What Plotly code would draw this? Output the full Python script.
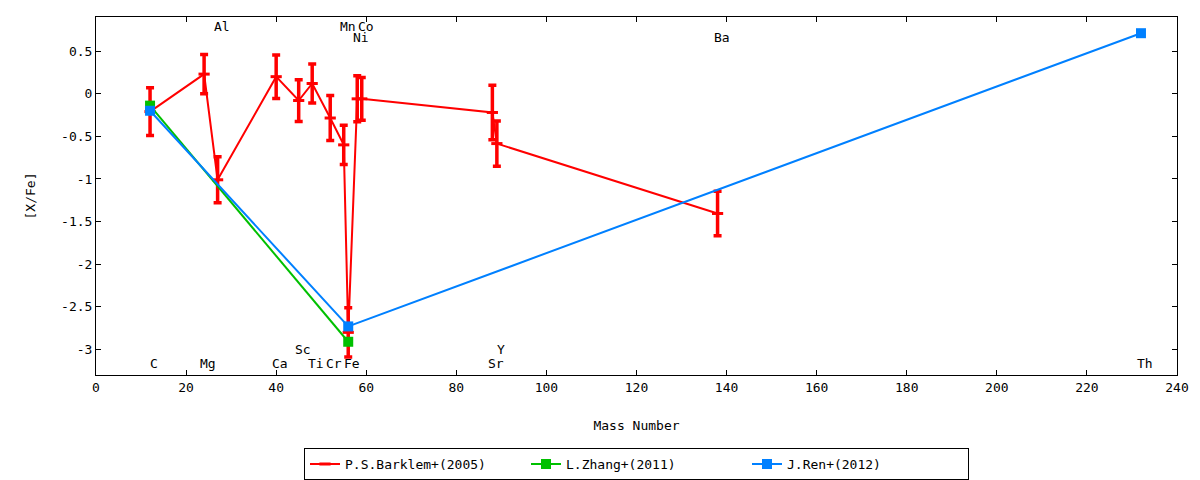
import plotly.graph_objects as go

# P.S.Barklem+(2005): mass number, [X/Fe], error
barklem_mass = [12, 24, 27, 40, 45, 48, 52, 55, 56, 58, 59, 88, 89, 138]
barklem_val = [-0.21, 0.23, -1.01, 0.20, -0.08, 0.12, -0.285, -0.60, -2.80, -0.06, -0.06, -0.22, -0.585, -1.405]
barklem_err = [0.28, 0.23, 0.27, 0.255, 0.245, 0.23, 0.265, 0.23, 0.29, 0.27, 0.25, 0.32, 0.265, 0.26]

# L.Zhang+(2011)
zhang_mass = [12, 56]
zhang_val = [-0.14, -2.91]

# J.Ren+(2012)
ren_mass = [12, 56, 232]
ren_val = [-0.20, -2.73, 0.71]

# element labels
elem_names = ["C", "Mg", "Al", "Ca", "Sc", "Ti", "Cr", "Mn", "Fe", "Ni", "Co", "Sr", "Y", "Ba", "Th"]
elem_mass = [12, 24, 27, 40, 45, 48, 52, 55, 56, 58, 59, 88, 89, 138, 232]
elem_row = [-3.16, -3.16, 0.79, -3.16, -3.0, -3.16, -3.16, 0.79, -3.16, 0.66, 0.79, -3.16, -3.0, 0.66, -3.16]

x_ticks = list(range(0, 241, 20))
y_ticks = [-3, -2.5, -2, -1.5, -1, -0.5, 0, 0.5]

RED = "#ff0000"
GREEN = "#00c000"
BLUE = "#0080ff"
FONT = "DejaVu Sans Mono"

fig = go.Figure()

fig.add_trace(go.Scatter(
    x=barklem_mass, y=barklem_val, name="P.S.Barklem+(2005)",
    mode="lines+markers",
    line=dict(color=RED, width=2),
    marker=dict(symbol="line-ew", size=8, color=RED, line=dict(color=RED, width=3)),
    error_y=dict(type="data", array=barklem_err, visible=True, color=RED, thickness=3.5, width=4),
))
fig.add_trace(go.Scatter(
    x=zhang_mass, y=zhang_val, name="L.Zhang+(2011)",
    mode="lines+markers",
    line=dict(color=GREEN, width=2),
    marker=dict(symbol="square", size=10, color=GREEN),
))
fig.add_trace(go.Scatter(
    x=ren_mass, y=ren_val, name="J.Ren+(2012)",
    mode="lines+markers",
    line=dict(color=BLUE, width=2),
    marker=dict(symbol="square", size=10, color=BLUE),
))

for name, m, row in zip(elem_names, elem_mass, elem_row):
    fig.add_annotation(x=m, y=row, text=name, showarrow=False, xshift=4,
                       font=dict(family=FONT, size=13, color="black"))

axis_common = dict(
    showline=True, linecolor="black", linewidth=1, mirror="ticks",
    ticks="inside", ticklen=5, tickcolor="black",
    showgrid=False, zeroline=False,
    tickfont=dict(family=FONT, size=13, color="black"),
)

fig.update_xaxes(
    range=[0, 240], tickvals=x_ticks, ticktext=[str(v) for v in x_ticks],
    title=dict(text="Mass Number", font=dict(family=FONT, size=13, color="black"), standoff=27),
    **axis_common,
)
fig.update_yaxes(
    range=[-3.3, 0.9], tickvals=y_ticks, ticktext=[f"{v:g}" for v in y_ticks],
    title=dict(text="[X/Fe]", font=dict(family=FONT, size=13, color="black"), standoff=22),
    **axis_common,
)

fig.update_layout(
    width=1200, height=480,
    margin=dict(l=88, r=31, t=9, b=113),
    paper_bgcolor="white", plot_bgcolor="white",
    font=dict(family=FONT, size=13, color="black"),
    legend=dict(
        orientation="h", x=0.5, xanchor="center",
        yref="container", y=0.083, yanchor="top",
        bordercolor="black", borderwidth=1, bgcolor="white",
        entrywidth=176, entrywidthmode="pixels",
        font=dict(family=FONT, size=13, color="black"),
    ),
)

fig.write_html("out.html")
